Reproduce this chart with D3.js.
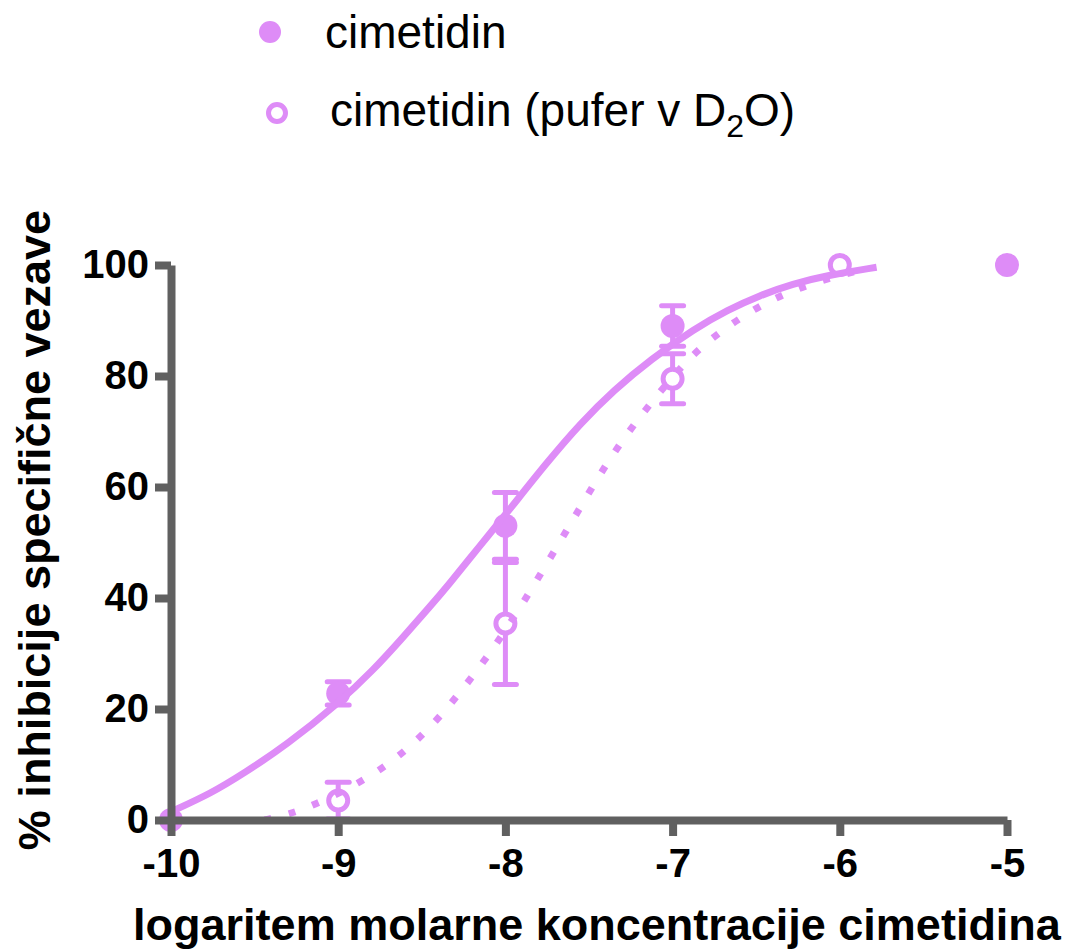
<!DOCTYPE html>
<html>
<head>
<meta charset="utf-8">
<script src="https://cdn.jsdelivr.net/npm/d3@7"></script>
<style>
  body { margin: 0; background: #fff; }
  svg { display: block; font-family: "Liberation Sans", Arial, sans-serif; }
</style>
</head>
<body>
<div id="chart"></div>
<script>
// measured points (log M, % inhibition, SEM)
var cimX = [-10, -9, -8, -7, -5];
var cimY = [0, 22.8, 53, 89, 100];
var cimErr = [0, 2.1, 6, 3.65, 0];

var d2oX = [-9, -8, -7, -6];
var d2oY = [3.5, 35.4, 79.5, 100];
var d2oErr = [3.3, 11, 4.5, 0];

// fitted curves
var fitCimX = [-10, -9.76, -9.56, -9.31, -9.0, -8.79, -8.61, -8.45, -8.35, -8.15, -8.0, -7.75, -7.55, -7.35, -7.13, -6.87, -6.67, -6.48, -6.28, -6.08, -5.78];
var fitCimY = [1.5, 4.8, 8.5, 13.5, 21, 27, 33, 38.5, 42, 49.5, 55, 64.5, 71.5, 77.5, 83, 88.5, 91.9, 94.5, 96.6, 98.1, 99.6];

var fitD2oX = [-9.44, -9.30, -9.15, -8.88, -8.64, -8.42, -8.23, -8.05, -7.89, -7.73, -7.58, -7.43, -7.26, -7.08, -6.88, -6.64, -6.39, -6.11, -5.82];
var fitD2oY = [0, 1.0, 2.6, 6.5, 11.2, 17.5, 24.5, 31.8, 39.3, 47.3, 54.9, 62.6, 70.2, 77, 84.1, 89.7, 94.2, 97.3, 99.5];

var xTicks = [-10, -9, -8, -7, -6, -5];
var yTicks = [0, 20, 40, 60, 80, 100];

var width = 1069, height = 951;
var pink = "#de8cf7", axisGrey = "#606060";

var svg = d3.select("#chart").append("svg")
    .attr("width", width)
    .attr("height", height);

var x = d3.scaleLinear().domain([-10, -5]).range([171, 1007]);
var y = d3.scaleLinear().domain([0, 100]).range([820, 265]);

function zip(a, b) {
  return a.map(function(v, i) { return [v, b[i]]; });
}

var cim = cimX.map(function(v, i) { return {x: v, y: cimY[i], e: cimErr[i]}; });
var d2o = d2oX.map(function(v, i) { return {x: v, y: d2oY[i], e: d2oErr[i]}; });

// error bars
function errorBars(data) {
  var g = svg.append("g")
    .attr("stroke", pink)
    .attr("stroke-width", 5);
  data.filter(function(d) { return d.e > 0; }).forEach(function(d) {
    g.append("line")
      .attr("x1", x(d.x)).attr("x2", x(d.x))
      .attr("y1", y(d.y - d.e)).attr("y2", y(d.y + d.e));
    [d.y - d.e, d.y + d.e].forEach(function(v) {
      g.append("line")
        .attr("stroke-linecap", "round")
        .attr("x1", x(d.x) - 11).attr("x2", x(d.x) + 11)
        .attr("y1", y(v)).attr("y2", y(v));
    });
  });
}
errorBars(cim);
errorBars(d2o);

// markers
svg.append("g").selectAll("circle")
  .data(cim)
  .join("circle")
    .attr("cx", function(d) { return x(d.x); })
    .attr("cy", function(d) { return y(d.y); })
    .attr("r", 12)
    .attr("fill", pink);

svg.append("g").selectAll("circle")
  .data(d2o)
  .join("circle")
    .attr("cx", function(d) { return x(d.x); })
    .attr("cy", function(d) { return y(d.y); })
    .attr("r", 9.5)
    .attr("fill", "#fff")
    .attr("stroke", pink)
    .attr("stroke-width", 5);

// curves
var line = d3.line()
  .x(function(d) { return x(d[0]); })
  .y(function(d) { return y(d[1]); })
  .curve(d3.curveBasis);

svg.append("path")
  .datum(zip(fitCimX, fitCimY))
  .attr("fill", "none")
  .attr("stroke", pink)
  .attr("stroke-width", 7)
  .attr("d", line);

svg.append("path")
  .datum(zip(fitD2oX, fitD2oY))
  .attr("fill", "none")
  .attr("stroke", pink)
  .attr("stroke-width", 7)
  .attr("stroke-dasharray", "7,18")
  .attr("d", line);

// axes
var xAxis = svg.append("g")
  .attr("transform", "translate(0,820)")
  .call(d3.axisBottom(x).tickValues(xTicks).tickSize(16).tickSizeOuter(0).tickPadding(13)
    .tickFormat(d3.format("d")));
var yAxis = svg.append("g")
  .attr("transform", "translate(171,0)")
  .call(d3.axisLeft(y).tickValues(yTicks).tickSize(16).tickSizeOuter(0).tickPadding(6));

[xAxis, yAxis].forEach(function(a) {
  a.selectAll("path, line").attr("stroke", axisGrey).attr("stroke-width", 8);
  a.selectAll("text")
    .attr("fill", "#000")
    .style("font-family", "'Liberation Sans', Arial, sans-serif")
    .style("font-size", "40px")
    .style("font-weight", "bold");
});
xAxis.selectAll("text").text(function(d) { return "-" + Math.abs(d); });

// axis titles
svg.append("text")
  .attr("x", 597).attr("y", 940)
  .attr("text-anchor", "middle")
  .style("font-size", "45px").style("font-weight", "bold")
  .text("logaritem molarne koncentracije cimetidina");

svg.append("text")
  .attr("transform", "translate(50,530) rotate(-90)")
  .attr("text-anchor", "middle")
  .style("font-size", "45px").style("font-weight", "bold")
  .text("% inhibicije specifične vezave");

// legend
svg.append("circle")
  .attr("cx", 270).attr("cy", 32).attr("r", 11)
  .attr("fill", pink);
svg.append("text")
  .attr("x", 325).attr("y", 48)
  .style("font-size", "46px")
  .text("cimetidin");

svg.append("circle")
  .attr("cx", 277).attr("cy", 113).attr("r", 8.5)
  .attr("fill", "#fff").attr("stroke", pink).attr("stroke-width", 5);
var t2 = svg.append("text")
  .attr("x", 330).attr("y", 126)
  .style("font-size", "46px");
t2.append("tspan").text("cimetidin (pufer v D");
t2.append("tspan").attr("dy", 11).style("font-size", "32px").text("2");
t2.append("tspan").attr("dy", -11).text("O)");
</script>
</body>
</html>
